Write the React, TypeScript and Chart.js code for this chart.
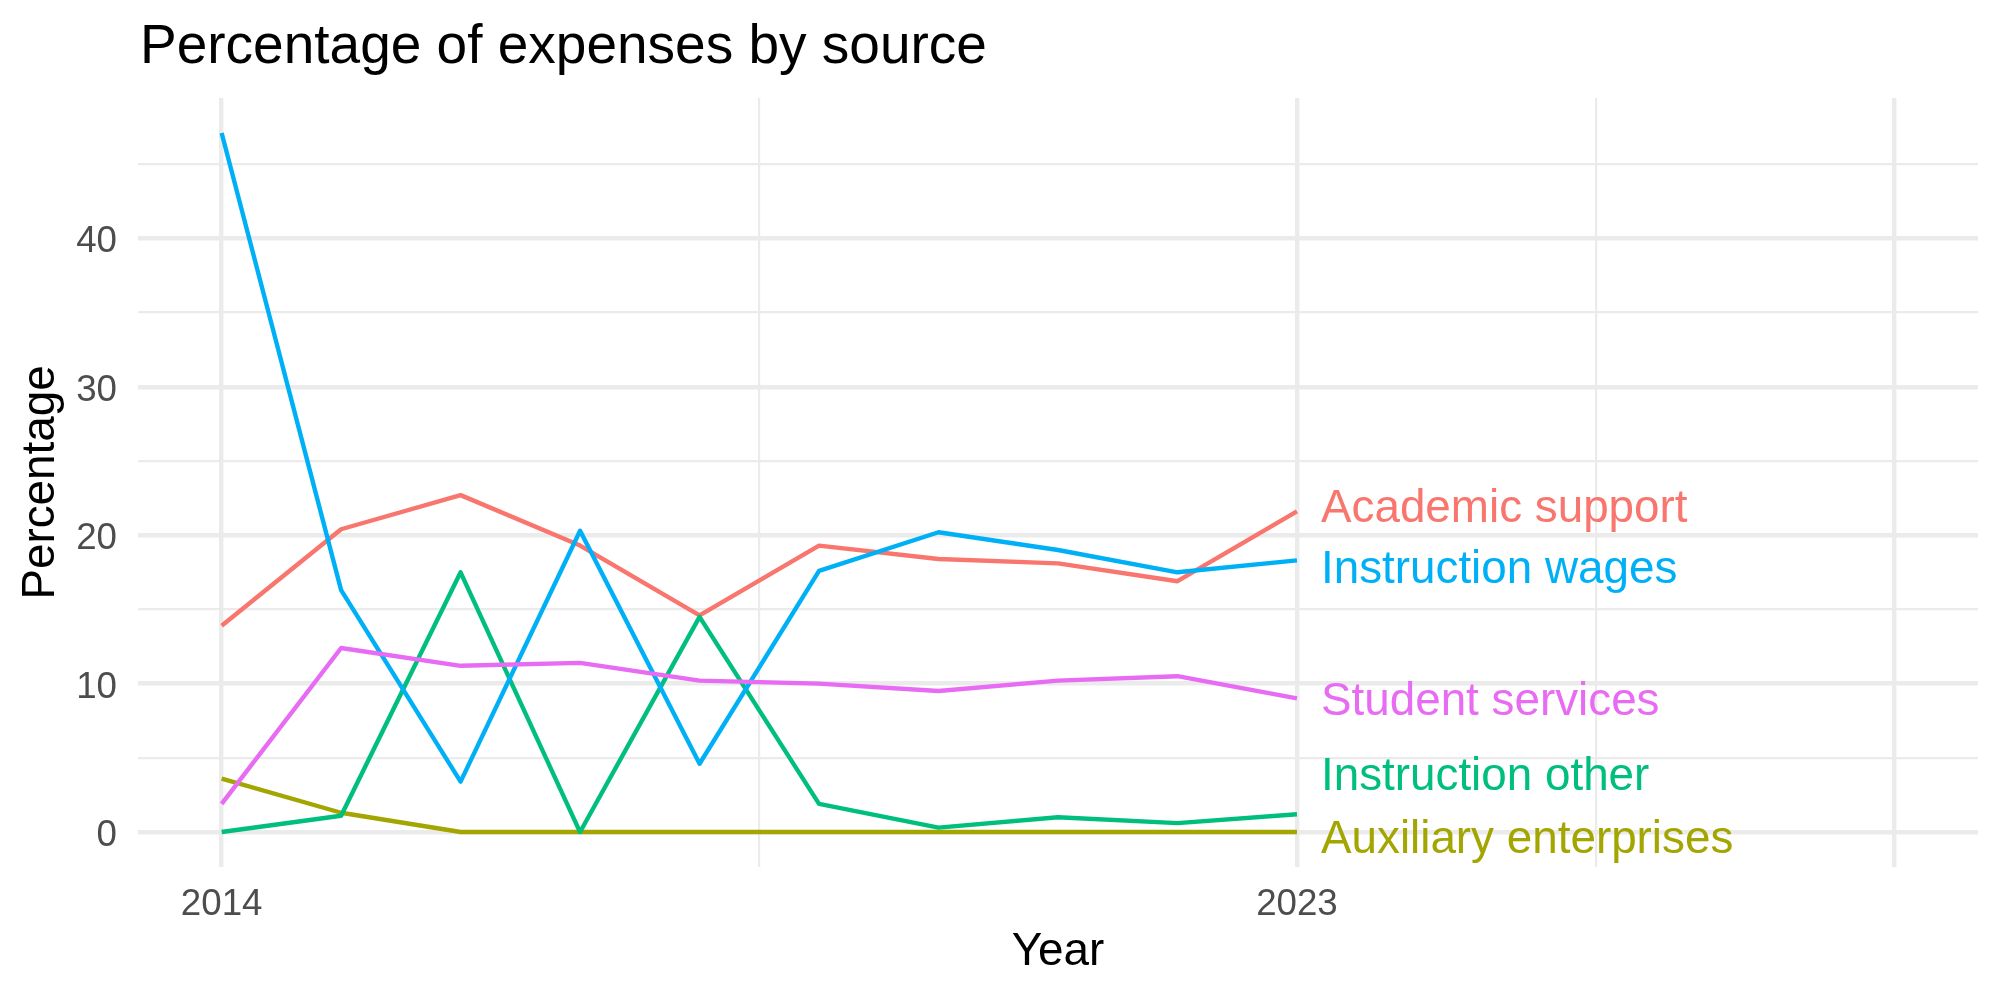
import React, { useEffect, useRef } from "react";
import { Chart, registerables } from "chart.js";

Chart.register(...registerables);

const years = [2014, 2015, 2016, 2017, 2018, 2019, 2020, 2021, 2022, 2023];
const seriesNames = [
  "Academic support",
  "Auxiliary enterprises",
  "Instruction other",
  "Instruction wages",
  "Student services",
];
const seriesColors = ["#F8766D", "#A3A500", "#00BF7D", "#00B0F6", "#E76BF3"];

const academicSupport = [13.9, 20.4, 22.7, 19.3, 14.6, 19.3, 18.4, 18.1, 16.9, 21.6];
const auxiliaryEnterprises = [3.6, 1.3, 0, 0, 0, 0, 0, 0, 0, 0];
const instructionOther = [0.0, 1.1, 17.5, 0.0, 14.5, 1.9, 0.3, 1.0, 0.6, 1.2];
const instructionWages = [47.1, 16.3, 3.4, 20.3, 4.6, 17.6, 20.2, 19.0, 17.5, 18.3];
const studentServices = [1.9, 12.4, 11.2, 11.4, 10.2, 10.0, 9.5, 10.2, 10.5, 9.0];

// vertical positions (data units) of the direct labels at the right end
const labelValues = [22.0, -0.3, 3.94, 17.86, 9.0];
const labelYear = 2023;

const yMajorTicks = [0, 10, 20, 30, 40];
const yMinorTicks = [5, 15, 25, 35, 45];
const xMajorTicks = [2014, 2023, 2028];
const xMinorTicks = [2018.5, 2025.5];
const xTickLabels = ["2014", "2023"];
const xLabeledTicks = [2014, 2023];

const titleText = "Percentage of expenses by source";
const xTitle = "Year";
const yTitle = "Percentage";

const FONT = '"Liberation Sans", Arial, Helvetica, sans-serif';

export default function App() {
  const canvasRef = useRef<HTMLCanvasElement | null>(null);

  useEffect(() => {
    const canvas = canvasRef.current;
    if (!canvas) return;
    const allSeries = [
      academicSupport,
      auxiliaryEnterprises,
      instructionOther,
      instructionWages,
      studentServices,
    ];

    const textPlugin = {
      id: "ggText",
      afterDraw(chart: any) {
        const ctx = chart.ctx;
        const xs = chart.scales.x;
        const ys = chart.scales.y;
        const area = chart.chartArea;
        ctx.save();
        // title
        ctx.fillStyle = "#000000";
        ctx.font = `55px ${FONT}`;
        ctx.textAlign = "left";
        ctx.textBaseline = "alphabetic";
        ctx.fillText(titleText, 140, 63);

        // y tick labels
        ctx.fillStyle = "#4D4D4D";
        ctx.font = `36.7px ${FONT}`;
        ctx.textAlign = "right";
        yMajorTicks.forEach((v) => {
          ctx.fillText(String(v), 117, ys.getPixelForValue(v) + 14);
        });
        // x tick labels
        ctx.textAlign = "center";
        xLabeledTicks.forEach((v, i) => {
          ctx.fillText(xTickLabels[i], xs.getPixelForValue(v), 915);
        });

        // axis titles
        ctx.fillStyle = "#000000";
        ctx.font = `45.8px ${FONT}`;
        ctx.textAlign = "center";
        ctx.fillText(xTitle, (area.left + area.right) / 2, 965);
        ctx.save();
        ctx.translate(54, (area.top + area.bottom) / 2);
        ctx.rotate(-Math.PI / 2);
        ctx.fillText(yTitle, 0, 0);
        ctx.restore();

        // direct labels
        ctx.textAlign = "left";
        ctx.font = `45.8px ${FONT}`;
        const lx = xs.getPixelForValue(labelYear) + 24;
        seriesNames.forEach((name, i) => {
          ctx.fillStyle = seriesColors[i];
          ctx.fillText(name, lx, ys.getPixelForValue(labelValues[i]) + 16.4);
        });
        ctx.restore();
      },
    };

    const chart = new Chart(canvas, {
      type: "line",
      data: {
        datasets: seriesNames.map((name, i) => ({
          label: name,
          data: years.map((y, j) => ({ x: y, y: allSeries[i][j] })),
          borderColor: seriesColors[i],
          backgroundColor: seriesColors[i],
          borderWidth: 4.4,
          pointRadius: 0,
          pointHoverRadius: 0,
          tension: 0,
          fill: false,
          borderJoinStyle: "round",
          borderCapStyle: "butt",
          order: seriesNames.length - i,
        })),
      },
      options: {
        animation: false,
        responsive: false,
        devicePixelRatio: 1,
        layout: { padding: { top: 98, right: 22, left: 0, bottom: 0 } },
        plugins: {
          legend: { display: false },
          title: { display: false },
          tooltip: { enabled: false },
        },
        events: [],
        scales: {
          x: {
            type: "linear",
            min: 2013.3,
            max: 2028.7,
            afterBuildTicks: (scale: any) => {
              scale.ticks = [...xMajorTicks, ...xMinorTicks]
                .sort((a, b) => a - b)
                .map((v) => ({ value: v }));
            },
            afterFit: (scale: any) => {
              scale.height = 133;
            },
            ticks: { display: false },
            grid: {
              color: "#EBEBEB",
              drawTicks: false,
              lineWidth: (c: any) =>
                xMajorTicks.includes(c.tick?.value) ? 4.4 : 2.2,
            },
            border: { display: false },
          },
          y: {
            type: "linear",
            min: -2.355,
            max: 49.455,
            afterBuildTicks: (scale: any) => {
              scale.ticks = [...yMajorTicks, ...yMinorTicks]
                .sort((a, b) => a - b)
                .map((v) => ({ value: v }));
            },
            afterFit: (scale: any) => {
              scale.width = 138;
            },
            ticks: { display: false },
            grid: {
              color: "#EBEBEB",
              drawTicks: false,
              lineWidth: (c: any) =>
                yMajorTicks.includes(c.tick?.value) ? 4.4 : 2.2,
            },
            border: { display: false },
          },
        },
      },
      plugins: [textPlugin],
    } as any);

    return () => chart.destroy();
  }, []);

  return (
    <div
      style={{
        position: "fixed",
        left: 0,
        top: 0,
        width: "2000px",
        height: "1000px",
        background: "#ffffff",
      }}
    >
      <canvas ref={canvasRef} width={2000} height={1000} style={{ width: "2000px", height: "1000px" }} />
    </div>
  );
}
